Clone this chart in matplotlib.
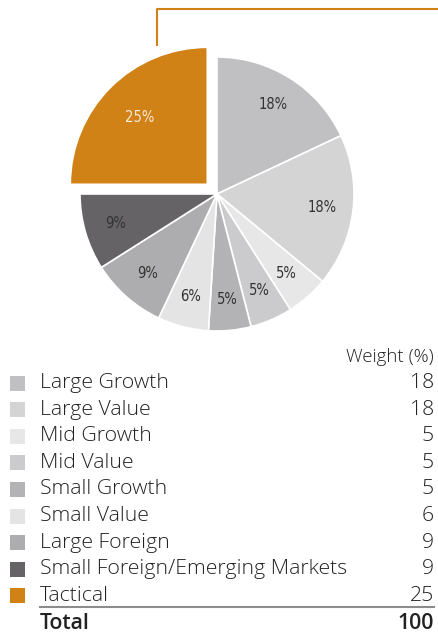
import matplotlib.pyplot as plt
from matplotlib import font_manager
from matplotlib.patches import Rectangle

labels = ["Large Growth", "Large Value", "Mid Growth", "Mid Value", "Small Growth",
          "Small Value", "Large Foreign", "Small Foreign/Emerging Markets", "Tactical"]
weights = [18, 18, 5, 5, 5, 6, 9, 9, 25]
colors = ["#c0c0c2", "#d4d4d5", "#e7e7e7", "#cbcbcd", "#b3b3b5",
          "#e4e4e4", "#adacae", "#656366", "#d08217"]
explode = [0, 0, 0, 0, 0, 0, 0, 0, 0.1]
total_label = "Total"
header = "Weight (%)"

fonts = font_manager.fontManager.ttflist
names = {f.name for f in fonts}
has_cond = any(f.name == "DejaVu Sans" and f.stretch == "condensed" for f in fonts)
if "Liberation Sans Narrow" in names:
    pie_font = dict(family="Liberation Sans Narrow")
elif has_cond:
    pie_font = dict(family="DejaVu Sans", stretch="condensed")
else:
    pie_font = dict(family="DejaVu Sans")
leg_font = "Open Sans" if "Open Sans" in names else "Liberation Sans"

W, H = 438, 633
fig = plt.figure(figsize=(W / 100, H / 100), dpi=100)

# pie: centre (217,194) px, radius 137 px
cx, cy, R, half = 217, 194, 137, 150
ax = fig.add_axes([(cx - half) / W, (H - cy - half) / H, 2 * half / W, 2 * half / H])
wedges, texts, autotexts = ax.pie(
    weights, colors=colors, explode=explode, startangle=90, counterclock=False,
    autopct="%d%%", pctdistance=0.77,
    wedgeprops=dict(edgecolor="white", linewidth=1.2),
    textprops=dict(fontsize=10.5, color="#333333", **pie_font))
for i, t in enumerate(autotexts):
    if i == len(autotexts) - 1:
        t.set_color("#f6ead8")
        x, y = t.get_position()
        ox, oy = wedges[i].center
        t.set_position((ox + (x - ox) * 0.9, oy + (y - oy) * 0.9))
ax.set_xlim(-half / R, half / R)
ax.set_ylim(-half / R, half / R)
ax.set_aspect("equal")
ax.axis("off")

# overlay axes in pixel coordinates for the callout line and table
ov = fig.add_axes([0, 0, 1, 1])
ov.set_xlim(0, W)
ov.set_ylim(H, 0)
ov.axis("off")
ov.plot([157, 157, W], [46, 9, 9], color="#d08217", lw=1.5, solid_capstyle="butt")

fs = 15.3
ov.text(434, 357, header, ha="right", va="center", fontsize=13.4, family=leg_font,
        color="#222222", weight="light")
y0, dy = 383, 26.6
for i, (lab, w, c) in enumerate(zip(labels, weights, colors)):
    y = y0 + i * dy
    ov.add_patch(Rectangle((10, y - 7.5), 15, 15, color=c, lw=0))
    ov.text(40, y, lab, ha="left", va="center", fontsize=fs, family=leg_font,
            color="#222222", weight="light")
    ov.text(434, y, str(w), ha="right", va="center", fontsize=fs, family=leg_font,
            color="#222222", weight="light")
y_line = y0 + (len(labels) - 1) * dy + 11
ov.plot([40, 434], [y_line, y_line], color="#8c8c8c", lw=1.5)
y_tot = y0 + len(labels) * dy + 1
ov.text(40, y_tot, total_label, ha="left", va="center", fontsize=fs, family=leg_font,
        color="#222222", weight="semibold")
ov.text(434, y_tot, str(sum(weights)), ha="right", va="center", fontsize=fs,
        family=leg_font, color="#222222", weight="semibold")

fig.savefig("out.png", dpi=100)
